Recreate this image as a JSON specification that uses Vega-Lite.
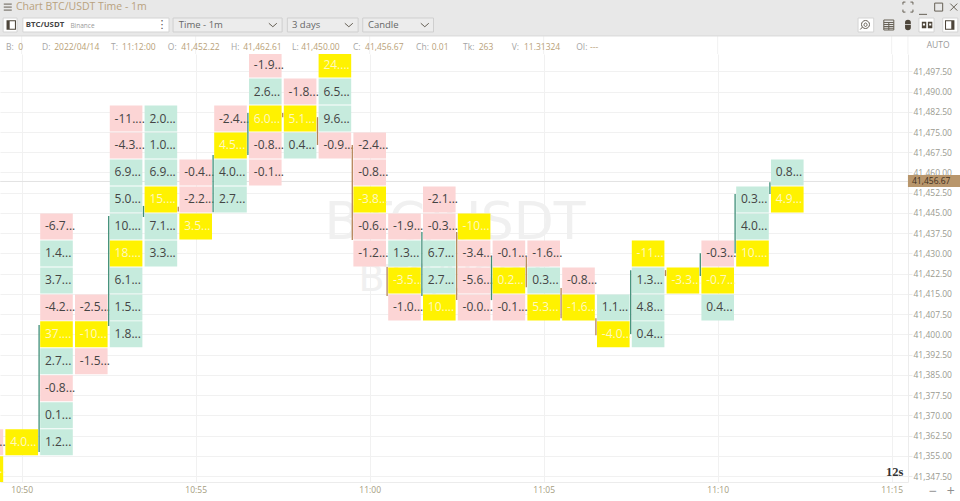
{"$schema":"https://vega.github.io/schema/vega-lite/v6.json","width":908,"height":428,"autosize":"none","padding":{"left":0,"top":54,"right":52,"bottom":19},"background":"white","config":{"view":{"stroke":null},"text":{"font":"Open Sans"}},
"datasets":{"cells":[
{"t":"2022-04-14T10:49:00Z","p":41360,"v":"-1.1...","k":"sell"},{"t":"2022-04-14T10:49:00Z","p":41350,"v":"-4.1...","k":"poc"},
{"t":"2022-04-14T10:50:00Z","p":41360,"v":"4.0...","k":"poc"},
{"t":"2022-04-14T10:51:00Z","p":41440,"v":"-6.7...","k":"sell"},{"t":"2022-04-14T10:51:00Z","p":41430,"v":"1.4...","k":"buy"},{"t":"2022-04-14T10:51:00Z","p":41420,"v":"3.7...","k":"buy"},{"t":"2022-04-14T10:51:00Z","p":41410,"v":"-4.2...","k":"sell"},{"t":"2022-04-14T10:51:00Z","p":41400,"v":"37....","k":"poc"},{"t":"2022-04-14T10:51:00Z","p":41390,"v":"2.7...","k":"buy"},{"t":"2022-04-14T10:51:00Z","p":41380,"v":"-0.8...","k":"sell"},{"t":"2022-04-14T10:51:00Z","p":41370,"v":"0.1...","k":"buy"},{"t":"2022-04-14T10:51:00Z","p":41360,"v":"1.2...","k":"buy"},
{"t":"2022-04-14T10:52:00Z","p":41410,"v":"-2.5...","k":"sell"},{"t":"2022-04-14T10:52:00Z","p":41400,"v":"-10...","k":"poc"},{"t":"2022-04-14T10:52:00Z","p":41390,"v":"-1.5...","k":"sell"},
{"t":"2022-04-14T10:53:00Z","p":41480,"v":"-11....","k":"sell"},{"t":"2022-04-14T10:53:00Z","p":41470,"v":"-4.3...","k":"sell"},{"t":"2022-04-14T10:53:00Z","p":41460,"v":"6.9...","k":"buy"},{"t":"2022-04-14T10:53:00Z","p":41450,"v":"5.0...","k":"buy"},{"t":"2022-04-14T10:53:00Z","p":41440,"v":"10....","k":"buy"},{"t":"2022-04-14T10:53:00Z","p":41430,"v":"18....","k":"poc"},{"t":"2022-04-14T10:53:00Z","p":41420,"v":"6.1...","k":"buy"},{"t":"2022-04-14T10:53:00Z","p":41410,"v":"1.5...","k":"buy"},{"t":"2022-04-14T10:53:00Z","p":41400,"v":"1.8...","k":"buy"},
{"t":"2022-04-14T10:54:00Z","p":41480,"v":"2.0...","k":"buy"},{"t":"2022-04-14T10:54:00Z","p":41470,"v":"1.0...","k":"buy"},{"t":"2022-04-14T10:54:00Z","p":41460,"v":"6.9...","k":"buy"},{"t":"2022-04-14T10:54:00Z","p":41450,"v":"15....","k":"poc"},{"t":"2022-04-14T10:54:00Z","p":41440,"v":"7.1...","k":"buy"},{"t":"2022-04-14T10:54:00Z","p":41430,"v":"3.3...","k":"buy"},
{"t":"2022-04-14T10:55:00Z","p":41460,"v":"-0.4...","k":"sell"},{"t":"2022-04-14T10:55:00Z","p":41450,"v":"-2.2...","k":"sell"},{"t":"2022-04-14T10:55:00Z","p":41440,"v":"3.5...","k":"poc"},
{"t":"2022-04-14T10:56:00Z","p":41480,"v":"-2.4...","k":"sell"},{"t":"2022-04-14T10:56:00Z","p":41470,"v":"4.5...","k":"poc"},{"t":"2022-04-14T10:56:00Z","p":41460,"v":"4.0...","k":"buy"},{"t":"2022-04-14T10:56:00Z","p":41450,"v":"2.7...","k":"buy"},
{"t":"2022-04-14T10:57:00Z","p":41500,"v":"-1.9...","k":"sell"},{"t":"2022-04-14T10:57:00Z","p":41490,"v":"2.6...","k":"buy"},{"t":"2022-04-14T10:57:00Z","p":41480,"v":"6.0...","k":"poc"},{"t":"2022-04-14T10:57:00Z","p":41470,"v":"-0.8...","k":"sell"},{"t":"2022-04-14T10:57:00Z","p":41460,"v":"-0.1...","k":"sell"},
{"t":"2022-04-14T10:58:00Z","p":41490,"v":"-1.8...","k":"sell"},{"t":"2022-04-14T10:58:00Z","p":41480,"v":"5.1...","k":"poc"},{"t":"2022-04-14T10:58:00Z","p":41470,"v":"0.4...","k":"buy"},
{"t":"2022-04-14T10:59:00Z","p":41500,"v":"24....","k":"poc"},{"t":"2022-04-14T10:59:00Z","p":41490,"v":"6.5...","k":"buy"},{"t":"2022-04-14T10:59:00Z","p":41480,"v":"9.6...","k":"buy"},{"t":"2022-04-14T10:59:00Z","p":41470,"v":"-0.9...","k":"sell"},
{"t":"2022-04-14T11:00:00Z","p":41470,"v":"-2.4...","k":"sell"},{"t":"2022-04-14T11:00:00Z","p":41460,"v":"-0.8...","k":"sell"},{"t":"2022-04-14T11:00:00Z","p":41450,"v":"-3.8...","k":"poc"},{"t":"2022-04-14T11:00:00Z","p":41440,"v":"-0.6...","k":"sell"},{"t":"2022-04-14T11:00:00Z","p":41430,"v":"-1.2...","k":"sell"},
{"t":"2022-04-14T11:01:00Z","p":41440,"v":"-1.9...","k":"sell"},{"t":"2022-04-14T11:01:00Z","p":41430,"v":"1.3...","k":"buy"},{"t":"2022-04-14T11:01:00Z","p":41420,"v":"-3.5...","k":"poc"},{"t":"2022-04-14T11:01:00Z","p":41410,"v":"-1.0...","k":"sell"},
{"t":"2022-04-14T11:02:00Z","p":41450,"v":"-2.1...","k":"sell"},{"t":"2022-04-14T11:02:00Z","p":41440,"v":"-0.3...","k":"sell"},{"t":"2022-04-14T11:02:00Z","p":41430,"v":"6.7...","k":"buy"},{"t":"2022-04-14T11:02:00Z","p":41420,"v":"2.7...","k":"buy"},{"t":"2022-04-14T11:02:00Z","p":41410,"v":"10....","k":"poc"},
{"t":"2022-04-14T11:03:00Z","p":41440,"v":"-10...","k":"poc"},{"t":"2022-04-14T11:03:00Z","p":41430,"v":"-3.4...","k":"sell"},{"t":"2022-04-14T11:03:00Z","p":41420,"v":"-5.6...","k":"sell"},{"t":"2022-04-14T11:03:00Z","p":41410,"v":"-0.0...","k":"sell"},
{"t":"2022-04-14T11:04:00Z","p":41430,"v":"-0.1...","k":"sell"},{"t":"2022-04-14T11:04:00Z","p":41420,"v":"0.2...","k":"poc"},{"t":"2022-04-14T11:04:00Z","p":41410,"v":"-0.1...","k":"sell"},
{"t":"2022-04-14T11:05:00Z","p":41430,"v":"-1.6...","k":"sell"},{"t":"2022-04-14T11:05:00Z","p":41420,"v":"0.3...","k":"buy"},{"t":"2022-04-14T11:05:00Z","p":41410,"v":"5.3...","k":"poc"},
{"t":"2022-04-14T11:06:00Z","p":41420,"v":"-0.8...","k":"sell"},{"t":"2022-04-14T11:06:00Z","p":41410,"v":"-1.6...","k":"poc"},
{"t":"2022-04-14T11:07:00Z","p":41410,"v":"1.1...","k":"buy"},{"t":"2022-04-14T11:07:00Z","p":41400,"v":"-4.0...","k":"poc"},
{"t":"2022-04-14T11:08:00Z","p":41430,"v":"-11...","k":"poc"},{"t":"2022-04-14T11:08:00Z","p":41420,"v":"1.3...","k":"buy"},{"t":"2022-04-14T11:08:00Z","p":41410,"v":"4.8...","k":"buy"},{"t":"2022-04-14T11:08:00Z","p":41400,"v":"0.4...","k":"buy"},
{"t":"2022-04-14T11:09:00Z","p":41420,"v":"-3.3...","k":"poc"},
{"t":"2022-04-14T11:10:00Z","p":41430,"v":"-0.3...","k":"sell"},{"t":"2022-04-14T11:10:00Z","p":41420,"v":"-0.7...","k":"poc"},{"t":"2022-04-14T11:10:00Z","p":41410,"v":"0.4...","k":"buy"},
{"t":"2022-04-14T11:11:00Z","p":41450,"v":"0.3...","k":"buy"},{"t":"2022-04-14T11:11:00Z","p":41440,"v":"4.0...","k":"buy"},{"t":"2022-04-14T11:11:00Z","p":41430,"v":"10....","k":"poc"},
{"t":"2022-04-14T11:12:00Z","p":41460,"v":"0.8...","k":"buy"},{"t":"2022-04-14T11:12:00Z","p":41450,"v":"4.9...","k":"poc"}
]},
"encoding":{"x":{"field":"t","type":"temporal","title":null,"scale":{"type":"utc","domain":[1649933362600,1649934928100]},"axis":{"format":"%H:%M","values":[1649933400000,1649933700000,1649934000000,1649934300000,1649934600000,1649934900000],"grid":true,"gridColor":"#f1f1f1","ticks":false,"domainColor":"#ececec","labelColor":"#a59c80","labelFont":"Open Sans","labelFontSize":8.5,"labelPadding":3,"labelOverlap":false}},
"y":{"field":"p","type":"quantitative","title":null,"scale":{"domain":[41345.28,41503.91],"zero":false,"nice":false},"axis":{"orient":"right","values":[41347.5,41355,41362.5,41370,41377.5,41385,41392.5,41400,41407.5,41415,41422.5,41430,41437.5,41445,41452.5,41460,41467.5,41475,41482.5,41490,41497.5],"format":",.2f","grid":true,"gridColor":"#f1f1f1","tickColor":"#ececec","tickSize":4,"domainColor":"#ececec","labelColor":"#9a9a90","labelFont":"Open Sans","labelFontSize":8.5,"labelPadding":1,"labelOverlap":false}}},
"layer":[
{"data":{"values":[{"t":"2022-04-14T11:02:27Z","p":41441.3,"s":"BTC/USDT"}]},"mark":{"type":"text","font":"DejaVu Sans","fontSize":52,"color":"#f0f0f0","align":"center","baseline":"middle"},"encoding":{"text":{"field":"s"}}},
{"data":{"values":[{"t":"2022-04-14T11:02:25Z","p":41420.1,"s":"BTC/USDT"}]},"mark":{"type":"text","font":"DejaVu Sans","fontSize":38,"color":"#f0f0f0","align":"center","baseline":"middle"},"encoding":{"text":{"field":"s"}}},
{"data":{"values":[{"t":"2022-04-14T10:49:23Z","t2":"2022-04-14T11:15:28Z","p":41456.67}],"format":{"parse":{"t2":"date"}}},"mark":{"type":"rule","color":"#e2e2e2"},"encoding":{"x2":{"field":"t2"}}},
{"data":{"name":"cells"},"mark":{"type":"rect","width":32.6,"height":26,"clip":true},"encoding":{"color":{"field":"k","type":"nominal","legend":null,"scale":{"domain":["sell","buy","poc"],"range":["#fcd5d5","#c6ebdd","#fff200"]}}}},
{"data":{"name":"cells"},"mark":{"type":"text","align":"left","baseline":"middle","dx":-11.5,"fontSize":12},"encoding":{"text":{"field":"v"},"color":{"condition":{"test":"datum.k==='poc'","value":"#fff8c0"},"value":"#444444"}}},
{"data":{"values":[
{"t":"2022-04-14T10:50:30Z","p":41403.5,"p2":41356.4,"d":"up"},{"t":"2022-04-14T10:52:30Z","p":41443.9,"p2":41403.1,"d":"up"},{"t":"2022-04-14T10:53:30Z","p":41447.6,"p2":41443.5,"d":"up"},{"t":"2022-04-14T10:54:30Z","p":41447.3,"p2":41445.5,"d":"down"},{"t":"2022-04-14T10:55:30Z","p":41466.5,"p2":41445.3,"d":"up"},{"t":"2022-04-14T10:56:30Z","p":41482.0,"p2":41466.5,"d":"up"},{"t":"2022-04-14T10:57:30Z","p":41482.0,"p2":41480.5,"d":"down"},{"t":"2022-04-14T10:58:30Z","p":41480.5,"p2":41470.2,"d":"down"},{"t":"2022-04-14T10:59:30Z","p":41470.2,"p2":41435.0,"d":"down"},{"t":"2022-04-14T11:00:30Z","p":41425.0,"p2":41414.2,"d":"down"},{"t":"2022-04-14T11:01:30Z","p":41437.9,"p2":41414.2,"d":"up"},{"t":"2022-04-14T11:02:30Z","p":41437.9,"p2":41412.7,"d":"down"},{"t":"2022-04-14T11:03:30Z","p":41428.7,"p2":41412.7,"d":"up"},{"t":"2022-04-14T11:04:30Z","p":41428.7,"p2":41417.5,"d":"down"},{"t":"2022-04-14T11:05:30Z","p":41417.2,"p2":41406.0,"d":"down"},{"t":"2022-04-14T11:06:30Z","p":41406.0,"p2":41399.7,"d":"down"},{"t":"2022-04-14T11:07:30Z","p":41423.8,"p2":41400.1,"d":"up"},{"t":"2022-04-14T11:08:30Z","p":41423.8,"p2":41421.6,"d":"down"},{"t":"2022-04-14T11:09:30Z","p":41430.1,"p2":41421.6,"d":"up"},{"t":"2022-04-14T11:10:30Z","p":41452.0,"p2":41430.1,"d":"up"},{"t":"2022-04-14T11:11:30Z","p":41456.4,"p2":41452.0,"d":"up"}
]},"mark":{"type":"rule","strokeWidth":1.3},"encoding":{"y2":{"field":"p2"},"color":{"condition":{"test":"datum.d==='up'","value":"#3f8f78"},"value":"#b58558"}}},
{"data":{"values":[{"t":"2022-04-14T10:50:00Z","p":41503.9,"p2":41511},{"t":"2022-04-14T10:55:00Z","p":41503.9,"p2":41511},{"t":"2022-04-14T11:00:00Z","p":41503.9,"p2":41511},{"t":"2022-04-14T11:05:00Z","p":41503.9,"p2":41511},{"t":"2022-04-14T11:10:00Z","p":41503.9,"p2":41511},{"t":"2022-04-14T11:15:00Z","p":41503.9,"p2":41511},{"t":"2022-04-14T11:15:28Z","p":41503.9,"p2":41511}]},"mark":{"type":"rule","color":"#f1f1f1"},"encoding":{"y2":{"field":"p2"}}},
{"data":{"values":[{"t":"2022-04-14T10:49:20Z","t2":"2022-04-14T11:17:00Z","p":41524,"p2":41510.6}],"format":{"parse":{"t2":"date"}}},"mark":{"type":"rect","color":"#e8e8e8"},"encoding":{"x2":{"field":"t2"},"y2":{"field":"p2"}}},
{"data":{"values":[{"t":"2022-04-14T10:49:20Z","t2":"2022-04-14T11:17:00Z","p":41510.9,"p2":41510.4}],"format":{"parse":{"t2":"date"}}},"mark":{"type":"rect","color":"#dddddd"},"encoding":{"x2":{"field":"t2"},"y2":{"field":"p2"}}},
{"data":{"values":[
{"t":"2022-04-14T10:49:28Z","t2":"2022-04-14T10:49:52Z","p":41517.25,"p2":41512.06},
{"t":"2022-04-14T10:50:02Z","t2":"2022-04-14T10:54:14Z","p":41517.25,"p2":41512.06},
{"t":"2022-04-14T11:14:02Z","t2":"2022-04-14T11:14:29Z","p":41517.25,"p2":41512.06},
{"t":"2022-04-14T11:15:47Z","t2":"2022-04-14T11:16:13Z","p":41517.25,"p2":41512.06},
{"t":"2022-04-14T11:16:28Z","t2":"2022-04-14T11:16:54Z","p":41517.25,"p2":41512.06}
],"format":{"parse":{"t2":"date"}}},"mark":{"type":"rect","color":"#ffffff","stroke":"#d4d4d4","strokeWidth":1},"encoding":{"x2":{"field":"t2"},"y2":{"field":"p2"}}},
{"data":{"values":[
{"t":"2022-04-14T10:54:21Z","t2":"2022-04-14T10:57:29Z","p":41517.25,"p2":41512.06},
{"t":"2022-04-14T10:57:38Z","t2":"2022-04-14T10:59:40Z","p":41517.25,"p2":41512.06},
{"t":"2022-04-14T10:59:48Z","t2":"2022-04-14T11:01:50Z","p":41517.25,"p2":41512.06}
],"format":{"parse":{"t2":"date"}}},"mark":{"type":"rect","color":"#ececec","stroke":"#cfcfcf","strokeWidth":1},"encoding":{"x2":{"field":"t2"},"y2":{"field":"p2"}}},
{"data":{"values":[{"t":"2022-04-14T11:15:28Z","t2":"2022-04-14T11:17:00Z","p":41459.06,"p2":41454.6}],"format":{"parse":{"t2":"date"}}},"mark":{"type":"rect","color":"#b8966c"},"encoding":{"x2":{"field":"t2"},"y2":{"field":"p2"}}},
{"data":{"values":[{"t":"2022-04-14T11:15:35Z","p":41456.8,"s":"41,456.67"}]},"mark":{"type":"text","align":"left","baseline":"middle","fontSize":8.5,"color":"#3f3020"},"encoding":{"text":{"field":"s"}}},
{"data":{"values":[{"t":"2022-04-14T10:49:50Z","p":41521.3,"s":"Chart BTC/USDT Time - 1m"}]},"mark":{"type":"text","align":"left","baseline":"middle","fontSize":10.5,"color":"#b9a27e"},"encoding":{"text":{"field":"s"}}},
{"data":{"values":[{"t":"2022-04-14T10:50:07Z","p":41514.66,"s":"BTC/USDT"}]},"mark":{"type":"text","align":"left","baseline":"middle","fontSize":7.8,"fontWeight":"bold","color":"#444444"},"encoding":{"text":{"field":"s"}}},
{"data":{"values":[{"t":"2022-04-14T10:51:24Z","p":41514.4,"s":"Binance"}]},"mark":{"type":"text","align":"left","baseline":"middle","fontSize":6.5,"color":"#999999"},"encoding":{"text":{"field":"s"}}},
{"data":{"values":[{"t":"2022-04-14T10:54:31Z","p":41514.66,"s":"Time - 1m"},{"t":"2022-04-14T10:57:46Z","p":41514.66,"s":"3 days"},{"t":"2022-04-14T10:59:57Z","p":41514.66,"s":"Candle"}]},"mark":{"type":"text","align":"left","baseline":"middle","fontSize":9.5,"color":"#666666"},"encoding":{"text":{"field":"s"}}},
{"data":{"values":[{"t":"2022-04-14T10:49:33Z","p":41506.5,"s":"B:"},{"t":"2022-04-14T10:50:35Z","p":41506.5,"s":"D:"},{"t":"2022-04-14T10:52:34Z","p":41506.5,"s":"T:"},{"t":"2022-04-14T10:54:12Z","p":41506.5,"s":"O:"},{"t":"2022-04-14T10:56:01Z","p":41506.5,"s":"H:"},{"t":"2022-04-14T10:57:46Z","p":41506.5,"s":"L:"},{"t":"2022-04-14T10:59:31Z","p":41506.5,"s":"C:"},{"t":"2022-04-14T11:01:20Z","p":41506.5,"s":"Ch:"},{"t":"2022-04-14T11:02:41Z","p":41506.5,"s":"Tk:"},{"t":"2022-04-14T11:04:05Z","p":41506.5,"s":"V:"},{"t":"2022-04-14T11:05:56Z","p":41506.5,"s":"OI:"}]},"mark":{"type":"text","align":"left","baseline":"middle","fontSize":8.5,"color":"#a5a5a5"},"encoding":{"text":{"field":"s"}}},
{"data":{"values":[{"t":"2022-04-14T10:49:54Z","p":41506.5,"s":"0"},{"t":"2022-04-14T10:50:56Z","p":41506.5,"s":"2022/04/14"},{"t":"2022-04-14T10:52:53Z","p":41506.5,"s":"11:12:00"},{"t":"2022-04-14T10:54:35Z","p":41506.5,"s":"41,452.22"},{"t":"2022-04-14T10:56:22Z","p":41506.5,"s":"41,462.61"},{"t":"2022-04-14T10:58:02Z","p":41506.5,"s":"41,450.00"},{"t":"2022-04-14T10:59:52Z","p":41506.5,"s":"41,456.67"},{"t":"2022-04-14T11:01:47Z","p":41506.5,"s":"0.01"},{"t":"2022-04-14T11:03:08Z","p":41506.5,"s":"263"},{"t":"2022-04-14T11:04:26Z","p":41506.5,"s":"11.31324"},{"t":"2022-04-14T11:06:20Z","p":41506.5,"s":"---"}]},"mark":{"type":"text","align":"left","baseline":"middle","fontSize":8.5,"color":"#b99f78"},"encoding":{"text":{"field":"s"}}},
{"data":{"values":[{"t":"2022-04-14T11:16:20Z","p":41507.2,"s":"AUTO"}]},"mark":{"type":"text","align":"center","baseline":"middle","fontSize":8.5,"color":"#999999"},"encoding":{"text":{"field":"s"}}},
{"data":{"values":[{"t":"2022-04-14T11:14:50Z","p":41349,"s":"12s"}]},"mark":{"type":"text","align":"left","baseline":"middle","font":"Liberation Serif","fontWeight":"bold","fontSize":12.5,"color":"#333333"},"encoding":{"text":{"field":"s"}}},
{"data":{"values":[{"t":"2022-04-14T11:16:11Z","p":41341.6,"s":"−"},{"t":"2022-04-14T11:16:42Z","p":41341.6,"s":"+"}]},"mark":{"type":"text","align":"center","baseline":"middle","fontSize":14,"color":"#8f8f8f"},"encoding":{"text":{"field":"s"}}},
{"data":{"values":[{"t":"2022-04-14T10:54:02Z","p":41514.66,"s":"⋮"}]},"mark":{"type":"text","align":"center","baseline":"middle","font":"DejaVu Sans","fontSize":11,"color":"#555555"},"encoding":{"text":{"field":"s"}}},
{"data":{"values":[
{"t":"2022-04-14T10:49:36Z","p":41521.3,"i":"menu"},{"t":"2022-04-14T10:57:13Z","p":41514.66,"i":"chev"},{"t":"2022-04-14T10:59:24Z","p":41514.66,"i":"chev"},{"t":"2022-04-14T11:01:35Z","p":41514.66,"i":"chev"},{"t":"2022-04-14T11:15:28Z","p":41521.3,"i":"full"},{"t":"2022-04-14T11:15:54Z","p":41519.9,"i":"min"},{"t":"2022-04-14T11:16:21Z","p":41521.3,"i":"max"},{"t":"2022-04-14T11:16:47Z","p":41521.3,"i":"close"},{"t":"2022-04-14T11:14:14Z","p":41514.66,"i":"zoom"},{"t":"2022-04-14T11:14:55Z","p":41514.66,"i":"table"}
]},"mark":{"type":"point","filled":false,"size":100,"strokeWidth":1,"color":"#666055","opacity":1},"encoding":{"shape":{"field":"i","type":"nominal","legend":null,"scale":{"domain":["menu","chev","full","min","max","close","zoom","table"],"range":["M-.8,-.6H.8M-.8,0H.8M-.8,.6H.8","M-.8,-.35L0,.35L.8,-.35","M-1,-.5V-1H-.5M.5,-1H1V-.5M1,.5V1H.5M-.5,1H-1V.5","M-.8,.7H.8","M-.8,-.8H.8V.8H-.8Z","M-.7,-.7L.7,.7M.7,-.7L-.7,.7","M.1,-.9A.8,.8 0 1 1 .09,-.9ZM-.5,.4L-.95,.9M.1,-.4A.3,.35 0 1 0 .11,-.4Z","M-1,-1H1V1H-1ZM-1,-.5H1M-1,-.1H1M-1,.3H1M-1,.65H1M0,-.5V1"]}}}},
{"data":{"values":[
{"t":"2022-04-14T10:49:42Z","p":41514.66,"i":"panelL"},{"t":"2022-04-14T11:15:28Z","p":41514.66,"i":"mouse"},{"t":"2022-04-14T11:16:01Z","p":41514.66,"i":"bar"},{"t":"2022-04-14T11:16:40Z","p":41514.66,"i":"panelR"}
]},"mark":{"type":"point","filled":true,"size":110,"color":"#4d453a","opacity":1},"encoding":{"shape":{"field":"i","type":"nominal","legend":null,"scale":{"domain":["panelL","mouse","bar","panelR"],"range":["M-.9,-.9H.9V.9H-.9ZM-.3,-.7V.7H.7V-.7Z","M-.55,-.2V-.5Q-.55,-1 0,-1Q.55,-1 .55,-.5V-.2ZM-.55,-.05H.55V.5Q.55,1 0,1Q-.55,1 -.55,.5Z","M-1,-.6H-.15V.6H-1ZM.15,-.6H1V.6H.15ZM-.8,-.3V.1H-.4V-.3ZM.4,-.3V.1H.8V-.3Z","M-.9,-.9H.9V.9H-.9ZM-.7,-.7V.7H.3V-.7Z"]}}}}
],
"resolve":{"scale":{"shape":"independent"}}}
